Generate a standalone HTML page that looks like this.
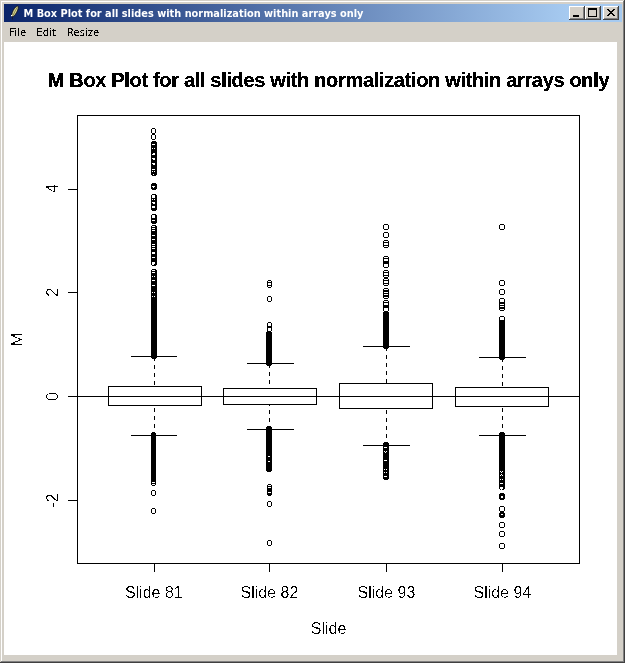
<!DOCTYPE html>
<html><head><meta charset="utf-8"><style>
html,body{margin:0;padding:0;width:625px;height:663px;overflow:hidden;background:#D4D0C8;}
svg{display:block;will-change:transform;}
text{font-family:"Liberation Sans",Arial,sans-serif;}
</style></head><body>
<svg width="625" height="663" viewBox="0 0 625 663" shape-rendering="crispEdges">
<defs>
<linearGradient id="tb" gradientUnits="userSpaceOnUse" x1="4" x2="567" y1="0" y2="0">
<stop offset="0" stop-color="#0A246A"/><stop offset="1" stop-color="#A6CAF0"/>
</linearGradient>
<filter id="crisp" x="-15%" y="-15%" width="130%" height="130%" color-interpolation-filters="sRGB">
<feComponentTransfer><feFuncA type="discrete" tableValues="0 0 0 1 1"/></feComponentTransfer>
</filter>
<filter id="crispB" x="-5%" y="-20%" width="110%" height="140%" color-interpolation-filters="sRGB">
<feComponentTransfer><feFuncA type="discrete" tableValues="0 1 1"/></feComponentTransfer>
</filter>
<filter id="crispM" x="-5%" y="-20%" width="110%" height="140%" color-interpolation-filters="sRGB">
<feComponentTransfer><feFuncA type="discrete" tableValues="0 1"/></feComponentTransfer>
</filter>
</defs>
<!-- window frame -->
<rect x="0" y="0" width="625" height="663" fill="#D4D0C8"/>
<rect x="1" y="1" width="622" height="1" fill="#FFFFFF"/>
<rect x="1" y="1" width="1" height="660" fill="#FFFFFF"/>
<rect x="0" y="662" width="625" height="1" fill="#404040"/>
<rect x="624" y="0" width="1" height="663" fill="#404040"/>
<rect x="1" y="661" width="623" height="1" fill="#808080"/>
<rect x="623" y="1" width="1" height="661" fill="#808080"/>
<!-- title bar -->
<rect x="4" y="4" width="618" height="18" fill="url(#tb)"/>
<g shape-rendering="geometricPrecision">
<path d="M12.3 16.5 L12.6 19.5" stroke="#1a1a30" stroke-width="1"/>
<ellipse cx="15" cy="11.3" rx="2.0" ry="6" transform="rotate(28 15 11.3)" fill="#D4D296" stroke="#101018" stroke-width="0.8"/>
<path d="M17.2 7.2 Q15 11 13 15.5" stroke="#8A8A40" stroke-width="0.9" fill="none"/>
<rect x="11" y="15" width="1.2" height="1.2" fill="#FFFFFF"/>
</g>
<text transform="translate(23.5 17) scale(0.89 1)" font-size="11" font-weight="bold" fill="#FFFFFF" style="font-family:'DejaVu Sans',sans-serif">M Box Plot for all slides with normalization within arrays only</text>
<!-- buttons -->
<g>
<rect x="569" y="6" width="16" height="14" fill="#404040"/>
<rect x="569" y="6" width="15" height="13" fill="#FFFFFF"/>
<rect x="570" y="7" width="14" height="12" fill="#808080"/>
<rect x="570" y="7" width="13" height="11" fill="#D4D0C8"/>
<rect x="573" y="15" width="6" height="2" fill="#000"/>
</g>
<g>
<rect x="585" y="6" width="16" height="14" fill="#404040"/>
<rect x="585" y="6" width="15" height="13" fill="#FFFFFF"/>
<rect x="586" y="7" width="14" height="12" fill="#808080"/>
<rect x="586" y="7" width="13" height="11" fill="#D4D0C8"/>
<rect x="588.5" y="8.5" width="8" height="8" fill="none" stroke="#000" stroke-width="1"/>
<rect x="588" y="9" width="9" height="1" fill="#000"/>
</g>
<g>
<rect x="603" y="6" width="16" height="14" fill="#404040"/>
<rect x="603" y="6" width="15" height="13" fill="#FFFFFF"/>
<rect x="604" y="7" width="14" height="12" fill="#808080"/>
<rect x="604" y="7" width="13" height="11" fill="#D4D0C8"/>
<g fill="#000"><rect x="607" y="9" width="2" height="1"/><rect x="613" y="9" width="2" height="1"/><rect x="608" y="10" width="2" height="1"/><rect x="612" y="10" width="2" height="1"/><rect x="609" y="11" width="2" height="1"/><rect x="611" y="11" width="2" height="1"/><rect x="610" y="12" width="2" height="1"/><rect x="610" y="12" width="2" height="1"/><rect x="611" y="13" width="2" height="1"/><rect x="609" y="13" width="2" height="1"/><rect x="612" y="14" width="2" height="1"/><rect x="608" y="14" width="2" height="1"/><rect x="613" y="15" width="2" height="1"/><rect x="607" y="15" width="2" height="1"/></g>
</g>
<!-- menu -->
<g font-family="'DejaVu Sans',sans-serif" font-size="10" fill="#000" filter="url(#crispM)">
<text x="9.5" y="36" style="font-family:'DejaVu Sans',sans-serif">File</text>
<text x="36.5" y="36" style="font-family:'DejaVu Sans',sans-serif">Edit</text>
<text x="67" y="36" style="font-family:'DejaVu Sans',sans-serif">Resize</text>
</g>
<!-- client -->
<rect x="4" y="42" width="613" height="613" fill="#FFFFFF"/>
<!-- plot -->
<g>
<rect x="77.5" y="115.5" width="502" height="448" fill="none" stroke="#000"/>
<line x1="77" y1="396.5" x2="580" y2="396.5" stroke="#000"/>
<line x1="68" y1="189.5" x2="77" y2="189.5" stroke="#000"/>
<line x1="68" y1="292.5" x2="77" y2="292.5" stroke="#000"/>
<line x1="68" y1="396.5" x2="77" y2="396.5" stroke="#000"/>
<line x1="68" y1="500.5" x2="77" y2="500.5" stroke="#000"/>
<line x1="154.5" y1="564" x2="154.5" y2="572" stroke="#000"/>
<line x1="269.5" y1="564" x2="269.5" y2="572" stroke="#000"/>
<line x1="386.5" y1="564" x2="386.5" y2="572" stroke="#000"/>
<line x1="502.5" y1="564" x2="502.5" y2="572" stroke="#000"/>
<rect x="108.5" y="386.5" width="93" height="19" fill="none" stroke="#000"/>
<rect x="154" y="357" width="1" height="4" fill="#000"/>
<rect x="154" y="365" width="1" height="4" fill="#000"/>
<rect x="154" y="373" width="1" height="4" fill="#000"/>
<rect x="154" y="381" width="1" height="4" fill="#000"/>
<rect x="154" y="432" width="1" height="4" fill="#000"/>
<rect x="154" y="424" width="1" height="4" fill="#000"/>
<rect x="154" y="416" width="1" height="4" fill="#000"/>
<rect x="154" y="408" width="1" height="4" fill="#000"/>
<line x1="131" y1="356.5" x2="177" y2="356.5" stroke="#000"/>
<line x1="131" y1="435.5" x2="177" y2="435.5" stroke="#000"/>
<path fill="#000" d="M151 142h6v33h-6zM152 141h4v1h-4zM152 175h4v1h-4zM151 184h6v5h-6zM152 183h4v1h-4zM152 189h4v1h-4zM151 195h6v15h-6zM152 194h4v1h-4zM152 210h4v1h-4zM151 215h6v8h-6zM152 214h4v1h-4zM152 223h4v1h-4zM151 226h6v39h-6zM152 225h4v1h-4zM152 265h4v1h-4zM151 270h6v88h-6zM152 269h4v1h-4zM152 358h4v1h-4zM151 433h5v41h-5zM152 432h3v1h-3zM152 474h3v1h-3zM152 128h3v1h-3zM152 133h3v1h-3zM151 129h1v4h-1zM155 129h1v4h-1zM152 134h3v1h-3zM152 139h3v1h-3zM151 135h1v4h-1zM155 135h1v4h-1zM152 472h3v1h-3zM152 477h3v1h-3zM151 473h1v4h-1zM155 473h1v4h-1zM152 474h3v1h-3zM152 479h3v1h-3zM151 475h1v4h-1zM155 475h1v4h-1zM152 475h3v1h-3zM152 480h3v1h-3zM151 476h1v4h-1zM155 476h1v4h-1zM152 476h3v1h-3zM152 481h3v1h-3zM151 477h1v4h-1zM155 477h1v4h-1zM152 478h3v1h-3zM152 483h3v1h-3zM151 479h1v4h-1zM155 479h1v4h-1zM152 480h3v1h-3zM152 485h3v1h-3zM151 481h1v4h-1zM155 481h1v4h-1zM152 490h3v1h-3zM152 495h3v1h-3zM151 491h1v4h-1zM155 491h1v4h-1zM152 508h3v1h-3zM152 513h3v1h-3zM151 509h1v4h-1zM155 509h1v4h-1z"/>
<path fill="#fff" d="M152 144h3v1h-3zM152 148h1v1h-1zM154 148h1v1h-1zM153 153h2v1h-2zM152 154h3v1h-3zM152 158h3v1h-3zM153 159h2v1h-2zM152 163h3v1h-3zM153 164h2v1h-2zM152 169h3v1h-3zM152 171h1v1h-1zM154 171h1v1h-1zM153 174h1v1h-1zM152 186h3v1h-3zM153 187h1v1h-1zM152 195h3v1h-3zM152 196h3v1h-3zM152 197h3v1h-3zM152 199h1v1h-1zM154 199h1v1h-1zM152 202h3v1h-3zM153 203h2v1h-2zM152 206h3v1h-3zM152 207h3v1h-3zM152 215h3v1h-3zM152 216h3v1h-3zM152 217h3v1h-3zM152 220h3v1h-3zM152 226h3v1h-3zM152 228h3v1h-3zM152 230h3v1h-3zM152 235h3v1h-3zM152 239h3v1h-3zM152 244h3v1h-3zM152 246h3v1h-3zM152 248h3v1h-3zM152 252h3v1h-3zM152 253h3v1h-3zM152 257h3v1h-3zM152 262h3v1h-3zM152 263h3v1h-3zM152 264h2v1h-2zM152 270h3v1h-3zM152 272h3v1h-3zM152 276h1v1h-1zM154 276h1v1h-1zM152 280h3v1h-3zM152 285h3v1h-3zM152 292h1v1h-1zM154 292h1v1h-1zM152 296h1v1h-1zM154 296h1v1h-1z"/>
<rect x="223.5" y="388.5" width="93" height="16" fill="none" stroke="#000"/>
<rect x="269" y="364" width="1" height="4" fill="#000"/>
<rect x="269" y="372" width="1" height="4" fill="#000"/>
<rect x="269" y="380" width="1" height="4" fill="#000"/>
<rect x="269" y="426" width="1" height="4" fill="#000"/>
<rect x="269" y="418" width="1" height="4" fill="#000"/>
<rect x="269" y="410" width="1" height="4" fill="#000"/>
<rect x="269" y="405" width="1" height="1" fill="#000"/>
<line x1="247" y1="363.5" x2="294" y2="363.5" stroke="#000"/>
<line x1="247" y1="429.5" x2="294" y2="429.5" stroke="#000"/>
<path fill="#000" d="M266 332h6v33h-6zM267 331h4v1h-4zM267 365h4v1h-4zM266 427h6v44h-6zM267 426h4v1h-4zM267 471h4v1h-4zM268 280h3v1h-3zM268 285h3v1h-3zM267 281h1v4h-1zM271 281h1v4h-1zM268 282h3v1h-3zM268 287h3v1h-3zM267 283h1v4h-1zM271 283h1v4h-1zM268 296h3v1h-3zM268 301h3v1h-3zM267 297h1v4h-1zM271 297h1v4h-1zM268 322h3v1h-3zM268 327h3v1h-3zM267 323h1v4h-1zM271 323h1v4h-1zM268 326h3v1h-3zM268 331h3v1h-3zM267 327h1v4h-1zM271 327h1v4h-1zM268 484h3v1h-3zM268 489h3v1h-3zM267 485h1v4h-1zM271 485h1v4h-1zM268 486h3v1h-3zM268 491h3v1h-3zM267 487h1v4h-1zM271 487h1v4h-1zM268 488h3v1h-3zM268 493h3v1h-3zM267 489h1v4h-1zM271 489h1v4h-1zM268 489h3v1h-3zM268 494h3v1h-3zM267 490h1v4h-1zM271 490h1v4h-1zM268 490h3v1h-3zM268 495h3v1h-3zM267 491h1v4h-1zM271 491h1v4h-1zM268 501h3v1h-3zM268 506h3v1h-3zM267 502h1v4h-1zM271 502h1v4h-1zM268 540h3v1h-3zM268 545h3v1h-3zM267 541h1v4h-1zM271 541h1v4h-1z"/>
<path fill="#fff" d="M268 456h2v1h-2zM268 461h2v1h-2z"/>
<rect x="339.5" y="383.5" width="93" height="25" fill="none" stroke="#000"/>
<rect x="386" y="347" width="1" height="4" fill="#000"/>
<rect x="386" y="355" width="1" height="4" fill="#000"/>
<rect x="386" y="363" width="1" height="4" fill="#000"/>
<rect x="386" y="371" width="1" height="4" fill="#000"/>
<rect x="386" y="379" width="1" height="4" fill="#000"/>
<rect x="386" y="442" width="1" height="4" fill="#000"/>
<rect x="386" y="434" width="1" height="4" fill="#000"/>
<rect x="386" y="426" width="1" height="4" fill="#000"/>
<rect x="386" y="418" width="1" height="4" fill="#000"/>
<rect x="386" y="410" width="1" height="4" fill="#000"/>
<line x1="363" y1="346.5" x2="410" y2="346.5" stroke="#000"/>
<line x1="363" y1="445.5" x2="410" y2="445.5" stroke="#000"/>
<path fill="#000" d="M383 312h6v36h-6zM384 311h4v1h-4zM384 348h4v1h-4zM383 443h6v36h-6zM384 442h4v1h-4zM384 479h4v1h-4zM384 224h4v1h-4zM384 229h4v1h-4zM383 225h1v4h-1zM388 225h1v4h-1zM384 232h4v1h-4zM384 237h4v1h-4zM383 233h1v4h-1zM388 233h1v4h-1zM384 240h4v1h-4zM384 245h4v1h-4zM383 241h1v4h-1zM388 241h1v4h-1zM384 242h4v1h-4zM384 247h4v1h-4zM383 243h1v4h-1zM388 243h1v4h-1zM384 256h4v1h-4zM384 261h4v1h-4zM383 257h1v4h-1zM388 257h1v4h-1zM384 258h4v1h-4zM384 263h4v1h-4zM383 259h1v4h-1zM388 259h1v4h-1zM384 262h4v1h-4zM384 267h4v1h-4zM383 263h1v4h-1zM388 263h1v4h-1zM384 270h4v1h-4zM384 275h4v1h-4zM383 271h1v4h-1zM388 271h1v4h-1zM384 272h4v1h-4zM384 277h4v1h-4zM383 273h1v4h-1zM388 273h1v4h-1zM384 278h4v1h-4zM384 283h4v1h-4zM383 279h1v4h-1zM388 279h1v4h-1zM384 280h4v1h-4zM384 285h4v1h-4zM383 281h1v4h-1zM388 281h1v4h-1zM384 288h4v1h-4zM384 293h4v1h-4zM383 289h1v4h-1zM388 289h1v4h-1zM384 290h4v1h-4zM384 295h4v1h-4zM383 291h1v4h-1zM388 291h1v4h-1zM384 291h4v1h-4zM384 296h4v1h-4zM383 292h1v4h-1zM388 292h1v4h-1zM384 293h4v1h-4zM384 298h4v1h-4zM383 294h1v4h-1zM388 294h1v4h-1zM384 300h4v1h-4zM384 305h4v1h-4zM383 301h1v4h-1zM388 301h1v4h-1zM384 302h4v1h-4zM384 307h4v1h-4zM383 303h1v4h-1zM388 303h1v4h-1zM384 306h4v1h-4zM384 311h4v1h-4zM383 307h1v4h-1zM388 307h1v4h-1z"/>
<path fill="#fff" d="M384 447h3v1h-3zM384 451h1v1h-1zM386 451h1v1h-1zM385 452h1v1h-1zM384 460h3v1h-3zM384 469h1v1h-1zM386 469h1v1h-1zM384 472h1v1h-1zM386 472h1v1h-1zM384 476h3v1h-3z"/>
<rect x="455.5" y="387.5" width="93" height="19" fill="none" stroke="#000"/>
<rect x="502" y="358" width="1" height="4" fill="#000"/>
<rect x="502" y="366" width="1" height="4" fill="#000"/>
<rect x="502" y="374" width="1" height="4" fill="#000"/>
<rect x="502" y="382" width="1" height="4" fill="#000"/>
<rect x="502" y="432" width="1" height="4" fill="#000"/>
<rect x="502" y="424" width="1" height="4" fill="#000"/>
<rect x="502" y="416" width="1" height="4" fill="#000"/>
<rect x="502" y="408" width="1" height="4" fill="#000"/>
<line x1="479" y1="357.5" x2="526" y2="357.5" stroke="#000"/>
<line x1="479" y1="435.5" x2="526" y2="435.5" stroke="#000"/>
<path fill="#000" d="M499 321h6v38h-6zM500 320h4v1h-4zM500 359h4v1h-4zM499 433h6v56h-6zM500 432h4v1h-4zM500 489h4v1h-4zM499 494h6v5h-6zM500 493h4v1h-4zM500 499h4v1h-4zM499 513h6v4h-6zM500 512h4v1h-4zM500 517h4v1h-4zM500 224h4v1h-4zM500 229h4v1h-4zM499 225h1v4h-1zM504 225h1v4h-1zM500 280h4v1h-4zM500 285h4v1h-4zM499 281h1v4h-1zM504 281h1v4h-1zM500 289h4v1h-4zM500 294h4v1h-4zM499 290h1v4h-1zM504 290h1v4h-1zM500 298h4v1h-4zM500 303h4v1h-4zM499 299h1v4h-1zM504 299h1v4h-1zM500 302h4v1h-4zM500 307h4v1h-4zM499 303h1v4h-1zM504 303h1v4h-1zM500 303h4v1h-4zM500 308h4v1h-4zM499 304h1v4h-1zM504 304h1v4h-1zM500 305h4v1h-4zM500 310h4v1h-4zM499 306h1v4h-1zM504 306h1v4h-1zM500 316h4v1h-4zM500 321h4v1h-4zM499 317h1v4h-1zM504 317h1v4h-1zM500 506h4v1h-4zM500 511h4v1h-4zM499 507h1v4h-1zM504 507h1v4h-1zM500 522h4v1h-4zM500 527h4v1h-4zM499 523h1v4h-1zM504 523h1v4h-1zM500 531h4v1h-4zM500 536h4v1h-4zM499 532h1v4h-1zM504 532h1v4h-1zM500 543h4v1h-4zM500 548h4v1h-4zM499 544h1v4h-1zM504 544h1v4h-1z"/>
<path fill="#fff" d="M500 317h3v1h-3zM500 471h1v1h-1zM502 471h1v1h-1zM501 472h1v1h-1zM500 475h1v1h-1zM502 475h1v1h-1zM501 474h1v1h-1zM500 479h1v1h-1zM502 479h1v1h-1zM500 483h3v1h-3zM500 487h3v1h-3zM500 488h3v1h-3zM501 489h1v1h-1zM501 496h2v1h-2zM501 497h2v1h-2zM501 514h2v1h-2z"/>
</g>
<g shape-rendering="geometricPrecision">
<text x="328.5" y="87" font-size="20" font-weight="bold" text-anchor="middle" letter-spacing="-0.33" filter="url(#crispB)">M Box Plot for all slides with normalization within arrays only</text>
<text filter="url(#crisp)" x="153.8" y="598" font-size="16" text-anchor="middle">Slide 81</text>
<text filter="url(#crisp)" x="269.5" y="598" font-size="16" text-anchor="middle">Slide 82</text>
<text filter="url(#crisp)" x="386.5" y="598" font-size="16" text-anchor="middle">Slide 93</text>
<text filter="url(#crisp)" x="502.5" y="598" font-size="16" text-anchor="middle">Slide 94</text>
<text filter="url(#crisp)" x="328.5" y="634" font-size="16" text-anchor="middle">Slide</text>
<text filter="url(#crisp)" transform="translate(22.5 339.5) rotate(-90)" font-size="16" text-anchor="middle">M</text>
<text filter="url(#crisp)" transform="translate(58 188.5) rotate(-90)" font-size="16" text-anchor="middle">4</text>
<text filter="url(#crisp)" transform="translate(58 292.3) rotate(-90)" font-size="16" text-anchor="middle">2</text>
<text filter="url(#crisp)" transform="translate(58 396.5) rotate(-90)" font-size="16" text-anchor="middle">0</text>
<text filter="url(#crisp)" transform="translate(58 500.5) rotate(-90)" font-size="16" text-anchor="middle">-2</text>
</g>
</svg>
</body></html>
